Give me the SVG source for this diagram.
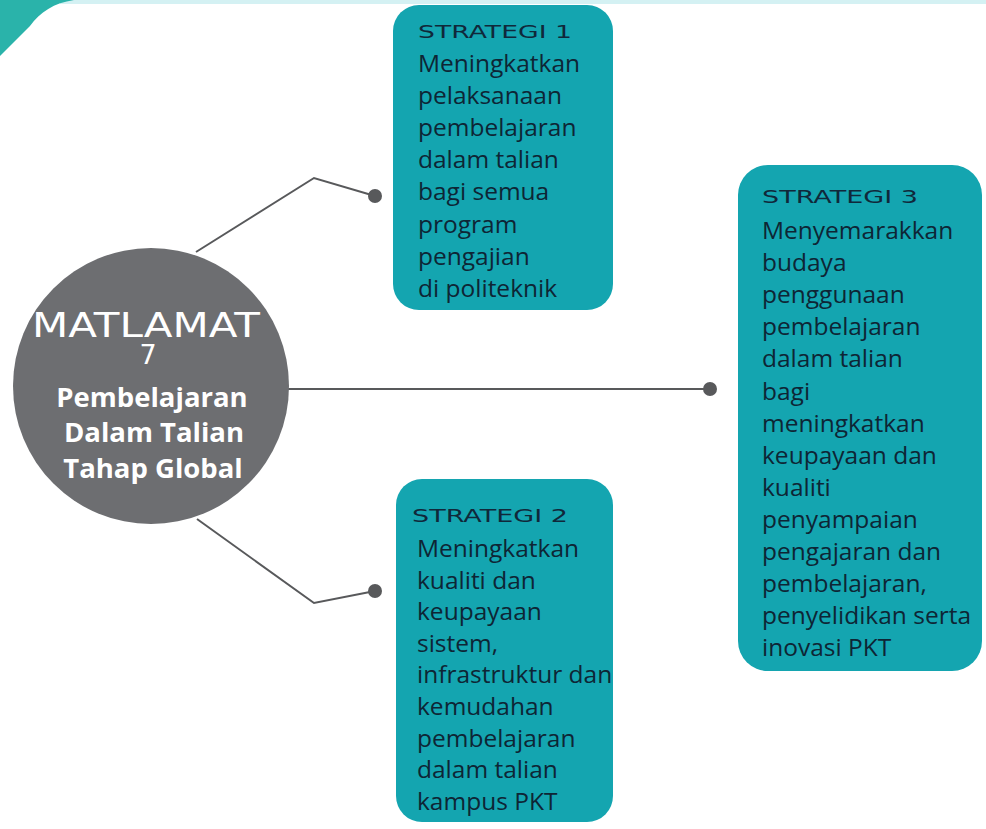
<svg xmlns="http://www.w3.org/2000/svg" width="986" height="829" viewBox="0 0 986 829">
<style>
.box{fill:#14a5b0}
.hd{font-family:"DejaVu Sans",sans-serif;font-size:18px;fill:#10283a}
.bd{font-family:"Open Sans","Noto Sans",sans-serif;font-size:24.5px;fill:#0e2535}
.ct{font-family:"Open Sans","Noto Sans",sans-serif;font-size:27.5px;font-weight:bold;fill:#ffffff;text-anchor:middle}
.mt{font-family:"DejaVu Sans",sans-serif;fill:#ffffff;text-anchor:middle}
.conn{fill:none;stroke:#58595b;stroke-width:2}
.dot{fill:#58595b}
</style>
<rect x="0" y="0" width="986" height="829" fill="#ffffff"/>
<rect x="60" y="0" width="926" height="4" fill="#d4f1f3"/>
<path d="M0,0 L74,0 C54,3 40,12 30,26 L0,56 Z" fill="#2ab3aa"/>

<g id="connectors">
  <polyline class="conn" points="196,252 314,178 375,196"/>
  <circle class="dot" cx="375" cy="196" r="7"/>
  <line class="conn" x1="288" y1="389" x2="710" y2="389"/>
  <circle class="dot" cx="710" cy="389" r="7"/>
  <polyline class="conn" points="197,519 314,603 375,591"/>
  <circle class="dot" cx="375" cy="591" r="7"/>
</g>

<g id="matlamat">
  <circle cx="151" cy="386" r="138" fill="#6d6e71"/>
  <text class="mt" x="146" y="337" font-size="33" textLength="228" lengthAdjust="spacingAndGlyphs">MATLAMAT</text>
  <text class="mt" x="148" y="364" font-size="27">7</text>
  <text class="ct" x="152" y="407">Pembelajaran</text>
  <text class="ct" x="154" y="442">Dalam Talian</text>
  <text class="ct" x="153" y="478">Tahap Global</text>
</g>

<g id="strategi1">
  <rect class="box" x="393" y="5" width="220" height="305" rx="26"/>
  <text class="hd" x="418" y="38" textLength="154" lengthAdjust="spacingAndGlyphs">STRATEGI 1</text>
  <text class="bd" x="418" y="72">Meningkatkan</text>
  <text class="bd" x="418" y="104">pelaksanaan</text>
  <text class="bd" x="418" y="136">pembelajaran</text>
  <text class="bd" x="418" y="168">dalam talian</text>
  <text class="bd" x="418" y="200">bagi semua</text>
  <text class="bd" x="418" y="233">program</text>
  <text class="bd" x="418" y="265">pengajian</text>
  <text class="bd" x="418" y="297">di politeknik</text>
</g>

<g id="strategi3">
  <rect class="box" x="738" y="165" width="244" height="506" rx="30"/>
  <text class="hd" x="762" y="203" textLength="156" lengthAdjust="spacingAndGlyphs">STRATEGI 3</text>
  <text class="bd" x="762" y="239">Menyemarakkan</text>
  <text class="bd" x="762" y="271">budaya</text>
  <text class="bd" x="762" y="303">penggunaan</text>
  <text class="bd" x="762" y="335">pembelajaran</text>
  <text class="bd" x="762" y="367">dalam talian</text>
  <text class="bd" x="762" y="400">bagi</text>
  <text class="bd" x="762" y="432">meningkatkan</text>
  <text class="bd" x="762" y="464">keupayaan dan</text>
  <text class="bd" x="762" y="496">kualiti</text>
  <text class="bd" x="762" y="528">penyampaian</text>
  <text class="bd" x="762" y="560">pengajaran dan</text>
  <text class="bd" x="762" y="592">pembelajaran,</text>
  <text class="bd" x="762" y="624">penyelidikan serta</text>
  <text class="bd" x="762" y="656">inovasi PKT</text>
</g>

<g id="strategi2">
  <rect class="box" x="396" y="479" width="217" height="343" rx="26"/>
  <text class="hd" x="412" y="522" textLength="156" lengthAdjust="spacingAndGlyphs">STRATEGI 2</text>
  <text class="bd" x="417" y="557">Meningkatkan</text>
  <text class="bd" x="417" y="589">kualiti dan</text>
  <text class="bd" x="417" y="620">keupayaan</text>
  <text class="bd" x="417" y="652">sistem,</text>
  <text class="bd" x="417" y="683" font-size="24">infrastruktur dan</text>
  <text class="bd" x="417" y="715">kemudahan</text>
  <text class="bd" x="417" y="747">pembelajaran</text>
  <text class="bd" x="417" y="778">dalam talian</text>
  <text class="bd" x="417" y="810">kampus PKT</text>
</g>
</svg>
